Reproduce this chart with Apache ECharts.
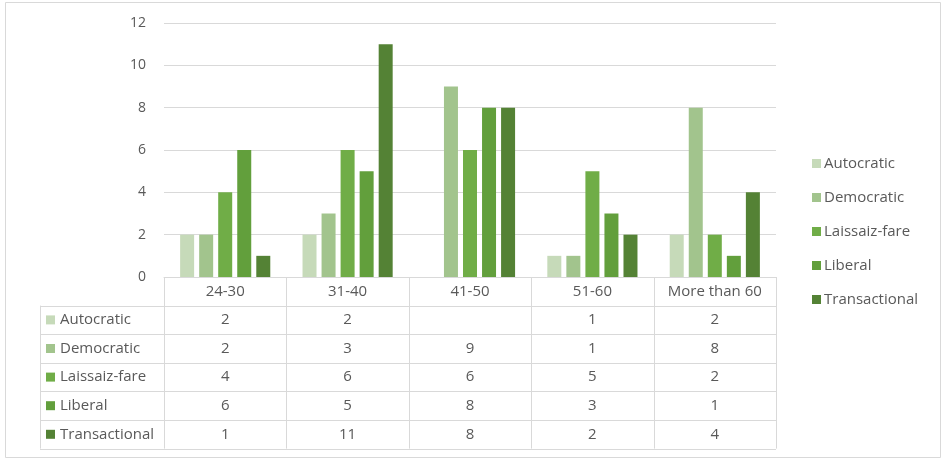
<!DOCTYPE html>
<html><head><meta charset="utf-8">
<script src="https://cdn.jsdelivr.net/npm/echarts@6/dist/echarts.min.js"></script>
<style>html,body{margin:0;padding:0;background:#fff}#c{width:945px;height:460px}</style>
</head><body><div id="c"></div>
<script>
const categories = ['24-30', '31-40', '41-50', '51-60', 'More than 60'];
const seriesNames = ['Autocratic', 'Democratic', 'Laissaiz-fare', 'Liberal', 'Transactional'];
const autocratic = [2, 2, null, 1, 2];
const democratic = [2, 3, 9, 1, 8];
const laissaizFare = [4, 6, 6, 5, 2];
const liberal = [6, 5, 8, 3, 1];
const transactional = [1, 11, 8, 2, 4];
const yTicks = [0, 2, 4, 6, 8, 10, 12];
const colors = ['#c6dab9', '#a2c48d', '#70ad47', '#629f3c', '#548235'];
const allValues = [autocratic, democratic, laissaizFare, liberal, transactional];

const FONT = '"Open Sans", "Noto Sans", sans-serif';
const TXT = '#595959';
const LINE = '#d9d9d9';
const G = {left: 164, right: 169, top: 23, bottom: 183};
const W = 945, H = 460;
const tableLeft = 40;
const rowH = 28.6;

const chart = echarts.init(document.getElementById('c'), null, {renderer: 'canvas'});
chart.setOption({
  animation: false,
  backgroundColor: '#fff',
  grid: {left: G.left, right: G.right, top: G.top, bottom: G.bottom, containLabel: false},
  legend: {
    orient: 'vertical', left: 807, top: 151,
    itemWidth: 9, itemHeight: 9, itemGap: 19,
    icon: 'rect',
    textStyle: {color: TXT, fontSize: 15, fontFamily: FONT, padding: [0, 0, 0, -2]},
    data: seriesNames
  },
  xAxis: {
    type: 'category', data: categories,
    axisLine: {show: true, lineStyle: {color: LINE}},
    axisTick: {show: false},
    axisLabel: {show: false}
  },
  yAxis: {
    type: 'value', min: yTicks[0], max: yTicks[yTicks.length - 1], interval: 2,
    axisLine: {show: false}, axisTick: {show: false},
    axisLabel: {color: TXT, fontSize: 14, fontFamily: FONT, margin: 18},
    splitLine: {lineStyle: {color: LINE, width: 1}}
  },
  series: seriesNames.map((n, i) => ({
    name: n, type: 'bar', data: allValues[i],
    barWidth: 14, barGap: '36%',
    itemStyle: {color: colors[i]}
  }))
});

const gridBottom = H - G.bottom;
const gridRight = W - G.right;
const colW = (gridRight - G.left) / categories.length;
const F = '15px ' + FONT;
const g = [];
g.push({type: 'rect', shape: {x: 5.5, y: 2.5, width: 935, height: 455}, style: {fill: null, stroke: '#d9d9d9', lineWidth: 1}, silent: true});
const nRows = seriesNames.length;
const tableBottom = gridBottom + rowH * (nRows + 1);
for (let r = 1; r <= nRows + 1; r++) {
  const y = Math.round(gridBottom + rowH * r) + 0.5;
  g.push({type: 'line', shape: {x1: tableLeft, y1: y, x2: gridRight, y2: y}, style: {stroke: LINE, lineWidth: 1}, silent: true});
}
g.push({type: 'line', shape: {x1: tableLeft + 0.5, y1: gridBottom + rowH, x2: tableLeft + 0.5, y2: tableBottom}, style: {stroke: LINE, lineWidth: 1}, silent: true});
for (let c = 0; c <= categories.length; c++) {
  const x = Math.round(G.left + colW * c) + 0.5;
  g.push({type: 'line', shape: {x1: x, y1: gridBottom, x2: x, y2: tableBottom}, style: {stroke: LINE, lineWidth: 1}, silent: true});
}
categories.forEach((cat) => {
  const cx = chart.convertToPixel({xAxisIndex: 0}, cat);
  g.push({type: 'text', x: cx, y: gridBottom + rowH / 2, style: {text: cat, fill: TXT, font: F, textAlign: 'center', textVerticalAlign: 'middle'}, silent: true});
});
seriesNames.forEach((n, r) => {
  const cy = gridBottom + rowH * (r + 1) + rowH / 2;
  g.push({type: 'rect', shape: {x: 46, y: cy - 4.5, width: 9, height: 9}, style: {fill: colors[r]}, silent: true});
  g.push({type: 'text', x: 60, y: cy, style: {text: n, fill: TXT, font: F, textAlign: 'left', textVerticalAlign: 'middle'}, silent: true});
  allValues[r].forEach((v, c) => {
    if (v === null) return;
    const cx = chart.convertToPixel({xAxisIndex: 0}, categories[c]);
    g.push({type: 'text', x: cx, y: cy, style: {text: String(v), fill: TXT, font: F, textAlign: 'center', textVerticalAlign: 'middle'}, silent: true});
  });
});
chart.setOption({graphic: g});
</script></body></html>
